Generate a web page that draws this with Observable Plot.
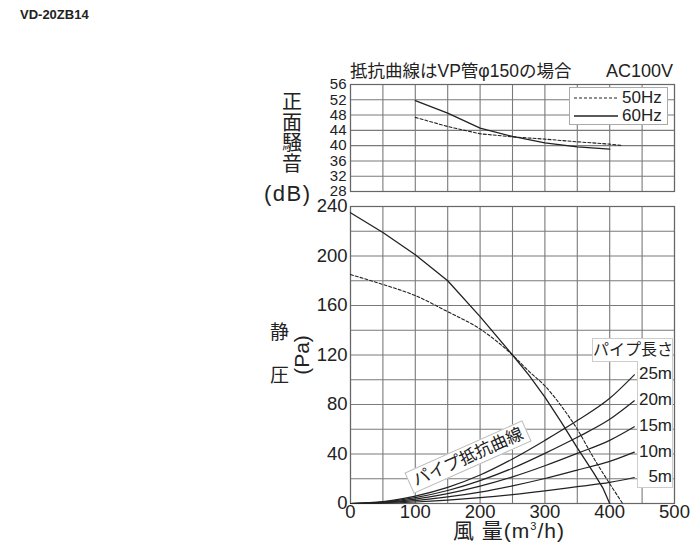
<!DOCTYPE html>
<html><head><meta charset="utf-8">
<script src="https://cdn.jsdelivr.net/npm/d3@7"></script>
<script src="https://cdn.jsdelivr.net/npm/@observablehq/plot@0.6"></script>
<style>
body{margin:0;background:#fff;}
#wrap{position:relative;width:700px;height:548px;overflow:hidden;font-family:"Liberation Sans","Noto Sans CJK JP",sans-serif;color:#222;}
.abs{position:absolute;white-space:nowrap;}
svg{position:absolute;left:0;overflow:visible;}
</style></head><body><div id="wrap"></div>
<script>
// ---- data ----
const xTicks = [0, 100, 200, 300, 400, 500];
const xGrid = [0, 50, 100, 150, 200, 250, 300, 350, 400, 450, 500];
const noiseTicks = [28, 32, 36, 40, 44, 48, 52, 56];
const pressTicks = [0, 40, 80, 120, 160, 200, 240];
const pressGrid = [0, 20, 40, 60, 80, 100, 120, 140, 160, 180, 200, 220, 240];

const noiseX50 = [100, 150, 200, 250, 300, 350, 400, 420];
const noise50 = [47.4, 45.0, 43.1, 42.3, 41.7, 41.0, 40.4, 40.0];
const noiseX60 = [100, 150, 200, 250, 300, 350, 400];
const noise60 = [51.8, 48.5, 44.6, 42.4, 40.7, 39.7, 39.1];

const pressX50 = [0, 50, 100, 150, 200, 250, 275, 300, 325, 350, 375, 400, 420];
const press50 = [185, 177, 168, 155, 141, 120, 107, 95, 79, 60, 37, 16, 0];
const pressX60 = [0, 50, 100, 150, 200, 250, 275, 300, 325, 350, 375, 390, 400];
const press60 = [235, 219, 201, 180, 151, 120, 104, 86, 66, 45, 25, 12, 0];

const pipeX = [0, 50, 100, 150, 200, 250, 300, 350, 400, 438];
const pipeNames = ["25m", "20m", "15m", "10m", "5m"];
const pipe25 = [0, 1.5, 6, 13, 23, 36, 51, 67, 85, 104];
const pipe20 = [0, 1.2, 4.8, 10.5, 18.5, 28.5, 40.5, 53.5, 68, 83];
const pipe15 = [0, 0.9, 3.6, 8, 14, 21.5, 30.5, 40.5, 51, 62];
const pipe10 = [0, 0.6, 2.4, 5.3, 9.2, 14.3, 20.2, 27, 34, 41.5];
const pipe5 = [0, 0.3, 1.2, 2.7, 4.7, 7.2, 10.2, 13.6, 17, 21];

// ---- build ----
const FONT = '"Liberation Sans","Noto Sans CJK JP",sans-serif';
const zip = (xs, ys) => xs.map((x, i) => ({x, y: ys[i]}));
const pipes = [pipe25, pipe20, pipe15, pipe10, pipe5];
const pipeRows = pipes.flatMap((arr, k) => zip(pipeX, arr).map(d => ({...d, name: pipeNames[k]})));
const gridStyle = {stroke: "#7a7a7a", strokeOpacity: 1, strokeWidth: 1.1};
const wrap = document.getElementById("wrap");

const TOP_H = 200;
const topChart = Plot.plot({
  width: 700, height: TOP_H,
  marginLeft: 350, marginRight: 26, marginTop: 84, marginBottom: 9,
  style: {fontFamily: FONT, color: "#222", background: "transparent", overflow: "visible"},
  x: {domain: [0, 500], axis: null, label: null},
  y: {domain: [28, 56], axis: null, label: null},
  marks: [
    Plot.gridX(xGrid, gridStyle),
    Plot.gridY(noiseTicks, gridStyle),
    Plot.frame({stroke: "#666", strokeWidth: 1.2}),
    Plot.axisY(noiseTicks, {tickSize: 0, tickPadding: 4, fontSize: 15, label: null}),
    Plot.line(zip(noiseX50, noise50), {x: "x", y: "y", stroke: "#222", strokeWidth: 1.1, strokeDasharray: "3,2"}),
    Plot.line(zip(noiseX60, noise60), {x: "x", y: "y", stroke: "#222", strokeWidth: 1.3})
  ]
});
topChart.style.top = "0px";
wrap.appendChild(topChart);

const LOW_TOP = 195;
const lowChart = Plot.plot({
  width: 700, height: 548 - LOW_TOP,
  marginLeft: 350, marginRight: 26, marginTop: 11, marginBottom: 45,
  style: {fontFamily: FONT, color: "#222", background: "transparent", overflow: "visible"},
  x: {domain: [0, 500], axis: null, label: null},
  y: {domain: [0, 240], axis: null, label: null},
  marks: [
    Plot.gridX(xGrid, gridStyle),
    Plot.gridY(pressGrid, gridStyle),
    Plot.frame({stroke: "#666", strokeWidth: 1.2}),
    Plot.axisY(pressTicks, {tickSize: 0, tickPadding: 3, fontSize: 18.5, label: null}),
    Plot.axisX(xTicks, {tickSize: 0, tickPadding: 1, fontSize: 18.5, label: null}),
    Plot.line(pipeRows, {x: "x", y: "y", z: "name", stroke: "#222", strokeWidth: 1.2, curve: "monotone-x"}),
    Plot.line(zip(pressX50, press50), {x: "x", y: "y", stroke: "#222", strokeWidth: 1.1, strokeDasharray: "3,2", curve: "monotone-x"}),
    Plot.line(zip(pressX60, press60), {x: "x", y: "y", stroke: "#222", strokeWidth: 1.3})
  ]
});
lowChart.style.top = LOW_TOP + "px";
wrap.appendChild(lowChart);

function sc(chart, name) {
  const s = chart.scale(name);
  return s.apply ? (v => s.apply(v)) : d3.scaleLinear(s.domain, s.range);
}
const ly = sc(lowChart, "y");

function add(html, css) {
  const d = document.createElement("div");
  d.className = "abs";
  d.innerHTML = html;
  Object.assign(d.style, css);
  wrap.appendChild(d);
  return d;
}

// header texts
add("VD-20ZB14", {left: "20px", top: "8px", fontSize: "13px", lineHeight: "14px", fontWeight: "bold", fontFamily: '"Liberation Sans",sans-serif'});
add("抵抗曲線はVP管φ150の場合", {left: "350px", top: "61px", fontSize: "17.5px", lineHeight: "21px"});
add("AC100V", {right: "27px", top: "61px", fontSize: "18px", lineHeight: "21px"});

// axis titles
add("正<br>面<br>騒<br>音", {left: "281px", top: "92px", fontSize: "20px", lineHeight: "20.5px", textAlign: "center", width: "22px"});
add("(dB)", {left: "264px", top: "182px", fontSize: "22px", lineHeight: "24px", letterSpacing: "1.5px"});
add("静", {left: "270px", top: "323px", fontSize: "19px", lineHeight: "20px"});
add("圧", {left: "270px", top: "366px", fontSize: "19px", lineHeight: "20px"});
add("(Pa)", {left: "302px", top: "355px", fontSize: "21px", lineHeight: "22px", transform: "translate(-50%,-50%) rotate(-90deg)"});
add("風&nbsp;量(m<sup style='font-size:11px;vertical-align:8px'>3</sup>/h)", {left: "453px", top: "514px", fontSize: "21px", lineHeight: "24px", letterSpacing: "1px"});

// noise legend
add(
  "<div style='height:18px;display:flex;align-items:center'><svg width='44' height='4' style='position:static'><line x1='0' y1='2' x2='44' y2='2' stroke='#222' stroke-width='1.1' stroke-dasharray='3,2'/></svg><span style='margin-left:4px'>50Hz</span></div>" +
  "<div style='height:18px;display:flex;align-items:center'><svg width='44' height='4' style='position:static'><line x1='0' y1='2' x2='44' y2='2' stroke='#222' stroke-width='1.3'/></svg><span style='margin-left:4px'>60Hz</span></div>",
  {left: "569px", top: "87px", width: "99px", height: "38px", padding: "1px 0 0 4px", background: "#fff", border: "1px solid #aaa", fontSize: "17px", lineHeight: "16px", boxSizing: "border-box"});

// pipe length legend
add("パイプ長さ", {left: "592px", top: "338px", width: "81px", height: "24px", background: "#fff", border: "1px solid #ccc", fontSize: "16px", lineHeight: "22px", textAlign: "center", boxSizing: "border-box"});
add("", {left: "637px", top: "361px", width: "36px", height: "127px", background: "#fff", border: "1px solid #ccc", borderTop: "none", boxSizing: "border-box"});
pipes.forEach((arr, k) => {
  const yPix = ly(arr[arr.length - 1]) + LOW_TOP;
  add(pipeNames[k], {right: "28px", top: (yPix - 10) + "px", fontSize: "17px", lineHeight: "20px", textAlign: "right"});
});

// rotated pipe resistance label
add("パイプ抵抗曲線", {left: "468px", top: "457px", fontSize: "17px", lineHeight: "21px", padding: "0 4px", background: "#fff", border: "1px solid #bbb", transform: "translate(-50%,-50%) rotate(-24deg)"});
</script>
</body></html>
